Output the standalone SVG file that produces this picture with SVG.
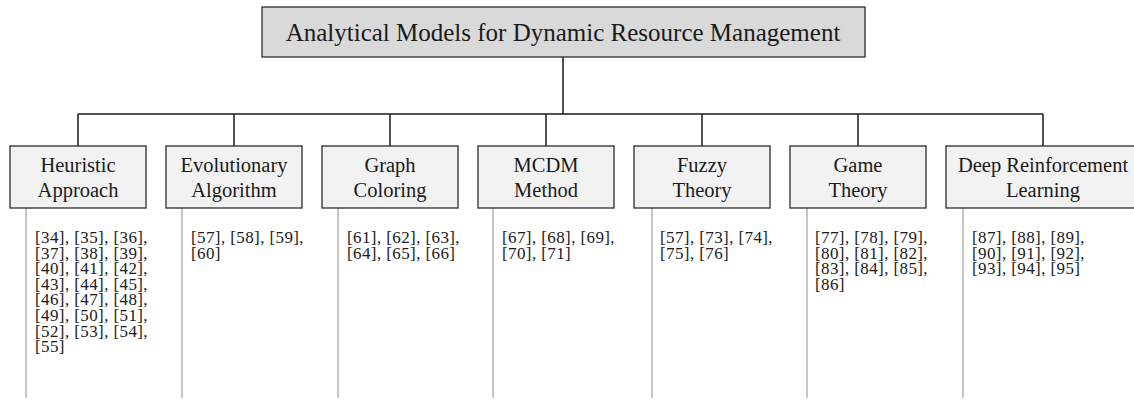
<svg xmlns="http://www.w3.org/2000/svg" width="1134" height="403" viewBox="0 0 1134 403">
  <style>
    .root { fill: #d9d9d9; stroke: #2b2b2b; stroke-width: 1.3; }
    .box { fill: #f2f2f2; stroke: #2b2b2b; stroke-width: 1.3; }
    .link { fill: none; stroke: #1a1a1a; stroke-width: 1.5; }
    .rule { fill: none; stroke: #8c8c8c; stroke-width: 1; }
    .title { font-family: "Liberation Serif", "Times New Roman", serif; font-size: 25px; fill: #1a1a1a; text-anchor: middle; }
    .label { font-family: "Liberation Serif", "Times New Roman", serif; font-size: 20.5px; fill: #1a1a1a; text-anchor: middle; }
    .refs { font-family: "Liberation Serif", "Times New Roman", serif; font-size: 17px; letter-spacing: 0.4px; fill: #1a1a1a; }
  </style>
  <rect width="1134" height="403" fill="#ffffff"/>

  <!-- tree connectors -->
  <g id="connectors">
    <path class="link" d="M563 57 V114 M78 114 H1043 M78 114 V146 M234 114 V146 M390 114 V146 M546 114 V146 M702 114 V146 M858 114 V146 M1043 114 V146"/>
    <path class="rule" d="M26 208 V398 M182 208 V398 M338 208 V398 M493 208 V398 M652 208 V398 M807 208 V398 M963 208 V398"/>
  </g>

  <g id="root">
    <rect class="root" x="262" y="7" width="603" height="50"/>
    <text class="title" x="563" y="41">Analytical Models for Dynamic Resource Management</text>
  </g>

  <g id="heuristic">
    <rect class="box" x="10" y="146" width="136" height="62"/>
    <text class="label" x="78" y="172">Heuristic</text>
    <text class="label" x="78" y="197">Approach</text>
    <text class="refs" x="35" y="243">[34], [35], [36],</text>
    <text class="refs" x="35" y="258.6">[37], [38], [39],</text>
    <text class="refs" x="35" y="274.2">[40], [41], [42],</text>
    <text class="refs" x="35" y="289.8">[43], [44], [45],</text>
    <text class="refs" x="35" y="305.4">[46], [47], [48],</text>
    <text class="refs" x="35" y="321">[49], [50], [51],</text>
    <text class="refs" x="35" y="336.6">[52], [53], [54],</text>
    <text class="refs" x="35" y="352.2">[55]</text>
  </g>

  <g id="evolutionary">
    <rect class="box" x="166" y="146" width="136" height="62"/>
    <text class="label" x="234" y="172">Evolutionary</text>
    <text class="label" x="234" y="197">Algorithm</text>
    <text class="refs" x="191" y="243">[57], [58], [59],</text>
    <text class="refs" x="191" y="258.6">[60]</text>
  </g>

  <g id="graph-coloring">
    <rect class="box" x="322" y="146" width="136" height="62"/>
    <text class="label" x="390" y="172">Graph</text>
    <text class="label" x="390" y="197">Coloring</text>
    <text class="refs" x="347" y="243">[61], [62], [63],</text>
    <text class="refs" x="347" y="258.6">[64], [65], [66]</text>
  </g>

  <g id="mcdm">
    <rect class="box" x="478" y="146" width="136" height="62"/>
    <text class="label" x="546" y="172">MCDM</text>
    <text class="label" x="546" y="197">Method</text>
    <text class="refs" x="502" y="243">[67], [68], [69],</text>
    <text class="refs" x="502" y="258.6">[70], [71]</text>
  </g>

  <g id="fuzzy">
    <rect class="box" x="634" y="146" width="136" height="62"/>
    <text class="label" x="702" y="172">Fuzzy</text>
    <text class="label" x="702" y="197">Theory</text>
    <text class="refs" x="660" y="243">[57], [73], [74],</text>
    <text class="refs" x="660" y="258.6">[75], [76]</text>
  </g>

  <g id="game">
    <rect class="box" x="790" y="146" width="136" height="62"/>
    <text class="label" x="858" y="172">Game</text>
    <text class="label" x="858" y="197">Theory</text>
    <text class="refs" x="815" y="243">[77], [78], [79],</text>
    <text class="refs" x="815" y="258.6">[80], [81], [82],</text>
    <text class="refs" x="815" y="274.2">[83], [84], [85],</text>
    <text class="refs" x="815" y="289.8">[86]</text>
  </g>

  <g id="drl">
    <rect class="box" x="946" y="146" width="196" height="62"/>
    <text class="label" x="1043" y="172">Deep Reinforcement</text>
    <text class="label" x="1043" y="197">Learning</text>
    <text class="refs" x="972" y="243">[87], [88], [89],</text>
    <text class="refs" x="972" y="258.6">[90], [91], [92],</text>
    <text class="refs" x="972" y="274.2">[93], [94], [95]</text>
  </g>
</svg>
